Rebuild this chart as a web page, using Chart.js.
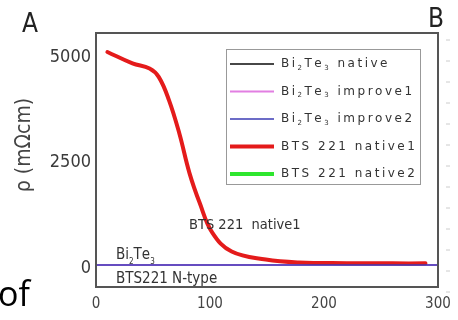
<!DOCTYPE html>
<html>
<head>
<meta charset="utf-8">
<script src="https://cdn.jsdelivr.net/npm/chart.js@4"></script>
<style>
  html, body { margin: 0; padding: 0; background: #fff; }
  #wrap { position: relative; width: 458px; height: 320px; overflow: hidden; }
</style>
</head>
<body>
<div id="wrap"><canvas id="rhoChart" width="458" height="320"></canvas></div>
<script>
// temperature (K) and resistivity (mΩcm)
const tempRed = [10, 32, 47, 55, 64, 73, 82, 91, 102, 119, 149, 178, 220, 260, 289];
const rhoRed = [5050, 4780, 4660, 4460, 3910, 3130, 2180, 1470, 770, 320, 130, 60, 45, 40, 40];
const tempFlat = [0, 300];
const rhoFlat = [0, 0];
const yTicks = [0, 2500, 5000];
const yTitle = '\u03c1 (m\u03a9cm)';
const seriesNames = ['Bi\u2082Te\u2083 native', 'Bi\u2082Te\u2083 improve1', 'Bi\u2082Te\u2083 improve2', 'BTS 221 native1', 'BTS 221 native2'];
const seriesColors = ['#474747', '#e27fe2', '#3b3bb5', '#e41b1b', '#2ee62e'];
const seriesWidths = [2, 2, 1.5, 4, 4];

const pts = (xs, ys) => xs.map((x, i) => ({ x: x, y: ys[i] }));

const condensed = '"DejaVu Sans Condensed", "Liberation Sans Narrow", "DejaVu Sans", sans-serif';
const SUBS = { '\u2082': '2', '\u2083': '3' };

// writes text char by char, turning subscript digits into small lowered ones
function richText(c, text, x, y, size, family, spacing) {
  let cx = x;
  c.letterSpacing = '0px';
  for (const ch of text) {
    const sub = SUBS[ch];
    const s = sub || ch;
    c.font = (sub ? Math.round(size * 0.55) : size) + 'px ' + family;
    c.fillText(s, cx, sub ? y + size * 0.32 : y);
    cx += c.measureText(s).width + spacing;
  }
}

// boxed legend, axis title, panel letters and curve notes
const decor = {
  id: 'decor',
  afterDraw(chart) {
    const c = chart.ctx, a = chart.chartArea;
    c.save();
    c.strokeStyle = '#555';
    c.lineWidth = 2;
    c.strokeRect(a.left, a.top, a.right - a.left, a.bottom - a.top);

    // y axis title, sits a bit above the middle of the axis
    c.save();
    c.translate(25, 145);
    c.rotate(-Math.PI / 2);
    c.fillStyle = '#444';
    c.font = '21px ' + condensed;
    c.textAlign = 'center';
    c.textBaseline = 'middle';
    c.fillText(yTitle, 0, 0);
    c.restore();

    // legend
    const lx = 226, ly = 49, lw = 194, lh = 135;
    c.fillStyle = '#fff';
    c.fillRect(lx, ly, lw, lh);
    c.strokeStyle = '#999';
    c.lineWidth = 1;
    c.strokeRect(lx + 0.5, ly + 0.5, lw, lh);
    c.textBaseline = 'middle';
    seriesNames.forEach((name, i) => {
      const y = ly + 15 + i * 27.5;
      c.strokeStyle = seriesColors[i];
      c.lineWidth = seriesWidths[i];
      c.beginPath();
      c.moveTo(lx + 4, y);
      c.lineTo(lx + 48, y);
      c.stroke();
      c.fillStyle = '#333';
      richText(c, name, lx + 55, y, 12, '"DejaVu Sans", sans-serif', 2.5);
    });

    // notes on the curves
    c.fillStyle = '#333';
    c.textBaseline = 'alphabetic';
    c.font = '14.5px ' + condensed;
    c.fillText('BTS 221  native1', 189, 229);
    richText(c, 'Bi\u2082Te\u2083', 116, 259, 15, condensed, 0);
    c.font = '15px ' + condensed;
    c.fillText('BTS221 N-type', 116, 283);

    // panel letters and page text
    c.fillStyle = '#222';
    c.font = '26px ' + condensed;
    c.fillText('A', 22, 32);
    c.fillText('B', 428, 27);
    c.fillStyle = '#000';
    c.font = '34px "Open Sans", "DejaVu Sans", sans-serif';
    c.fillText('of', -2, 306);

    // tick marks of the neighbouring panel
    c.strokeStyle = '#ccc';
    c.lineWidth = 1;
    for (let y = 40; y < 300; y += 21) {
      c.beginPath();
      c.moveTo(446, y);
      c.lineTo(450, y);
      c.stroke();
    }
    c.restore();
  }
};

new Chart(document.getElementById('rhoChart'), {
  type: 'line',
  data: {
    datasets: [
      { label: seriesNames[0], data: pts(tempFlat, rhoFlat), borderColor: seriesColors[0], borderWidth: seriesWidths[0], order: 4 },
      { label: seriesNames[1], data: pts(tempFlat, rhoFlat), borderColor: seriesColors[1], borderWidth: seriesWidths[1], order: 3 },
      { label: seriesNames[4], data: pts(tempFlat, rhoFlat), borderColor: seriesColors[4], borderWidth: seriesWidths[4], order: 5, hidden: true },
      { label: seriesNames[3], data: pts(tempRed, rhoRed), borderColor: seriesColors[3], borderWidth: seriesWidths[3], tension: 0.4, order: 2 },
      { label: seriesNames[2], data: pts(tempFlat, rhoFlat), borderColor: seriesColors[2], borderWidth: seriesWidths[2], order: 1 }
    ]
  },
  options: {
    responsive: false,
    animation: false,
    events: [],
    elements: { point: { radius: 0 }, line: { borderCapStyle: 'round' } },
    layout: { padding: { left: 0, right: 20, top: 33, bottom: 0 } },
    plugins: { legend: { display: false }, tooltip: { enabled: false } },
    scales: {
      x: {
        type: 'linear',
        min: 0,
        max: 300,
        ticks: { stepSize: 100, color: '#444', font: { family: condensed, size: 15 }, padding: 4, maxRotation: 0 },
        grid: { display: false, drawTicks: true, tickLength: 4, tickColor: '#555' },
        border: { display: false },
        afterFit(s) { s.height = 33; }
      },
      y: {
        min: -520,
        max: 5500,
        afterBuildTicks(s) { s.ticks = yTicks.map(v => ({ value: v })); },
        ticks: { color: '#3a3a3a', font: { family: condensed, size: 18 }, padding: 1, labelOffset: 3, callback: v => String(v) },
        grid: { display: false, drawTicks: true, tickLength: 4, tickColor: '#555' },
        border: { display: false },
        afterFit(s) { s.width = 96; }
      }
    }
  },
  plugins: [decor]
});
</script>
</body>
</html>
